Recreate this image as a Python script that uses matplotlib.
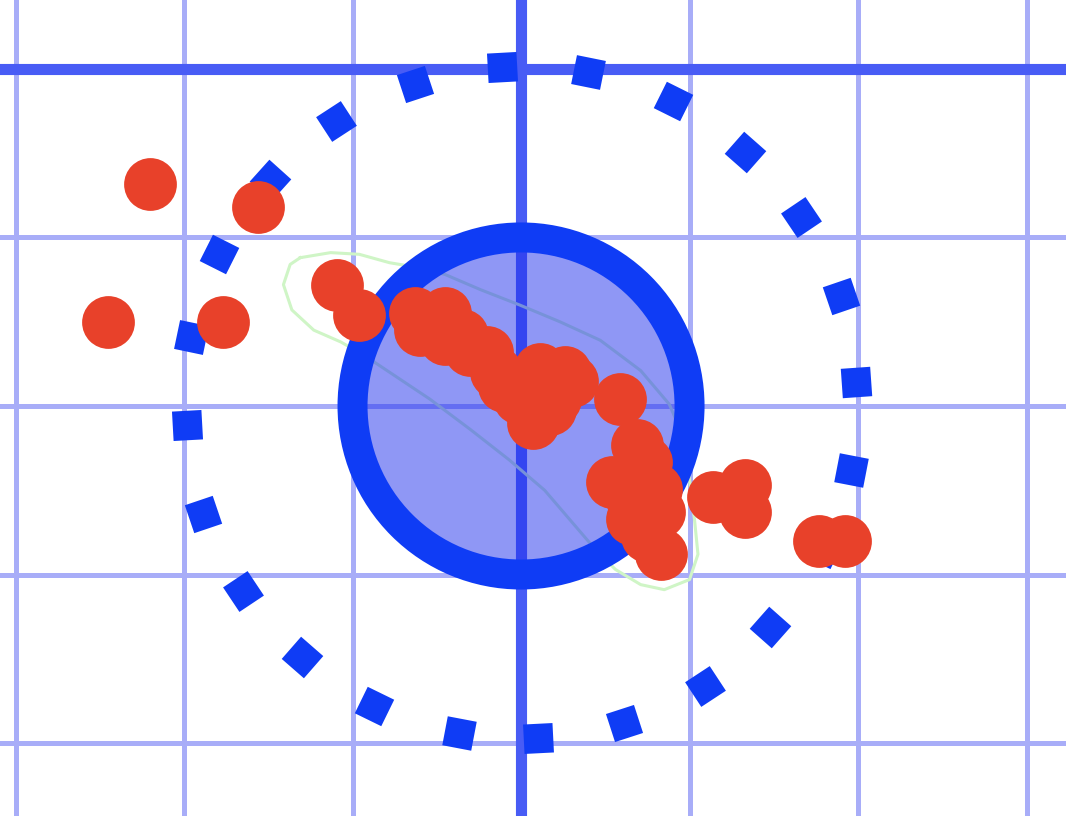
import matplotlib
matplotlib.use("Agg")
import matplotlib.pyplot as plt
from matplotlib.patches import Circle
import numpy as np

# ring of square markers
ring_x = [-0.11, 0.40, 0.90, 1.33, 1.66, 1.90, 1.99, 1.96, 1.79, 1.48, 1.09, 0.61,
          0.10, -0.37, -0.87, -1.30, -1.65, -1.89, -1.98, -1.96, -1.79, -1.49, -1.10, -0.63]
ring_y = [2.01, 1.98, 1.81, 1.51, 1.12, 0.65, 0.14, -0.38, -0.85, -1.31, -1.66, -1.88,
          -1.97, -1.94, -1.78, -1.49, -1.10, -0.64, -0.11, 0.41, 0.90, 1.34, 1.69, 1.91]

# red points
pts_x = [-2.20, -1.56, -2.45, -1.77, -1.09, -0.96,
         -0.63, -0.45, -0.60, -0.45, -0.30, -0.35, -0.20, -0.15, -0.10, -0.01,
         0.11, 0.26, 0.30, 0.20, 0.07, 0.17, 0.59,
         0.69, 0.74, 0.54, 0.65, 0.80, 0.82, 0.66, 0.75, 0.83,
         1.14, 1.33, 1.33, 1.77, 1.92]
pts_y = [1.32, 1.18, 0.50, 0.50, 0.72, 0.54,
         0.55, 0.55, 0.45, 0.40, 0.33, 0.42, 0.32, 0.20, 0.12, 0.05,
         0.22, 0.20, 0.15, 0.04, -0.10, -0.02, 0.04,
         -0.23, -0.33, -0.45, -0.54, -0.49, -0.63, -0.67, -0.77, -0.88,
         -0.54, -0.47, -0.63, -0.80, -0.80]

# outline around the main cluster
hull_x = [-1.31, -1.13, -0.96, -0.78, -0.60, -0.45, -0.24, -0.01, 0.23, 0.47, 0.71, 0.88,
          0.97, 1.00, 1.03, 1.05, 1.00, 0.85, 0.71, 0.56, 0.44, 0.32, 0.14, -0.07, -0.30,
          -0.54, -0.75, -0.93, -1.07, -1.23, -1.36, -1.41, -1.37, -1.31]
hull_y = [0.88, 0.91, 0.90, 0.85, 0.82, 0.78, 0.69, 0.60, 0.50, 0.39, 0.21, 0.01,
          -0.20, -0.44, -0.68, -0.88, -1.03, -1.09, -1.06, -0.97, -0.85, -0.71, -0.50, -0.32, -0.14,
          0.04, 0.18, 0.30, 0.38, 0.45, 0.57, 0.72, 0.84, 0.88]

circle_r = 1.0
hline_y = 2.0
vline_x = 0.0
xticks = [-3, -2, -1, 0, 1, 2, 3]
yticks = [-2, -1, 0, 1, 2]

blue = "#0f3cf5"
fig = plt.figure(figsize=(10.66, 8.16), dpi=100)
ax = fig.add_axes([0, 0, 1, 1])
ax.set_xlim(-3.092, 3.234)
ax.set_ylim(-2.433, 2.409)
ax.set_xticks(xticks)
ax.set_yticks(yticks)
ax.tick_params(length=0, labelbottom=False, labelleft=False)
for s in ax.spines.values():
    s.set_visible(False)
ax.grid(True, color="#a8adf8", linewidth=3.6, zorder=0)
ax.set_axisbelow(True)

ax.axhline(hline_y, color="#485cf5", linewidth=8, zorder=1)
ax.axvline(vline_x, color="#485cf5", linewidth=8, zorder=1)

ax.plot(hull_x, hull_y, color="#cff5c6", linewidth=2.2, zorder=1.5)

ax.add_patch(Circle((0, 0), circle_r, facecolor=(0.13, 0.19, 0.93, 0.5),
                    edgecolor=blue, linewidth=21.6, zorder=2))

for x, y in zip(ring_x, ring_y):
    ang = np.degrees(np.arctan2(y, x))
    ax.plot(x, y, marker=(4, 0, ang + 45), markersize=30, color=blue,
            markeredgewidth=0, linestyle="none", zorder=2.5)

ax.plot(pts_x, pts_y, "o", color="#e8412a", markersize=38, markeredgewidth=0, zorder=3)

fig.savefig("out.png", dpi=100)
